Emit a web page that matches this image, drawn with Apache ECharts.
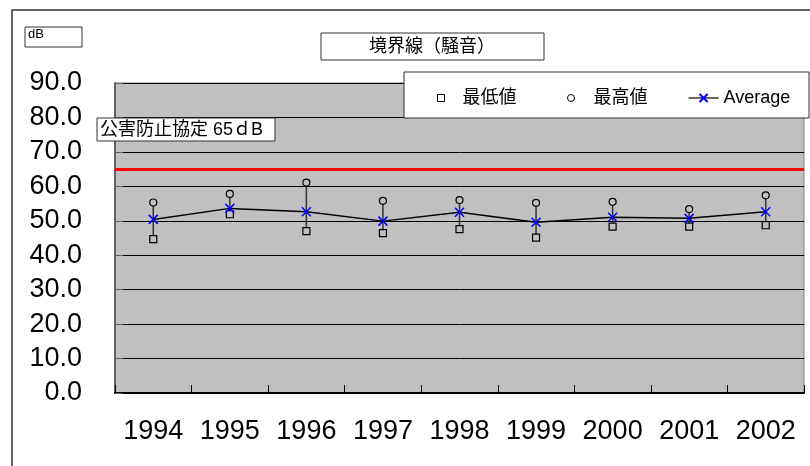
<!DOCTYPE html>
<html lang="ja">
   <head>
      <title>境界線（騒音）</title>
      <meta charset="utf-8">
      <script type="text/javascript" src="https://cdn.jsdelivr.net/npm/echarts@6/dist/echarts.min.js"></script>
   </head>
   <body style="margin:0;">

      <div id="chart1" style="width:810px;height:466px;"></div>

      <script type="text/javascript">
         // data (dB)
         let years = ['1994', '1995', '1996', '1997', '1998', '1999', '2000', '2001', '2002'];
         let minVals = [44.7, 51.9, 47.0, 46.4, 47.6, 45.1, 48.3, 48.3, 48.7];
         let maxVals = [55.3, 57.8, 61.1, 55.8, 56.0, 55.2, 55.5, 53.4, 57.4];
         let avgVals = [50.4, 53.6, 52.6, 49.9, 52.5, 49.6, 51.0, 50.7, 52.6];
         let limitValue = 65;
         let yTicks = [0, 90, 10]; // min, max, interval

         let font = '"Liberation Sans", "Noto Sans CJK JP", sans-serif';
         let xMark = 'path://M0,0L10,10M10,0L0,10';

         let dom1 = document.getElementById('chart1');
         let myChart1 = echarts.init(dom1);

         let legendText = { fontSize: 18, fontFamily: font, color: '#000' };

         let option1 = {
             animation: false,
             textStyle: { fontFamily: font, color: '#000' },
             grid: {
                 left: 115, top: 83, right: 6, bottom: 73,
                 show: true,
                 backgroundColor: '#c0c0c0',
                 borderColor: '#808080',
                 borderWidth: 1
             },
             legend: [
                 {
                     data: ['最低値'], left: 437, top: 89, padding: 0,
                     itemWidth: 7, itemHeight: 7,
                     itemStyle: { color: '#fff', borderWidth: 1 },
                     textStyle: Object.assign({ padding: [0, 0, 0, 13] }, legendText)
                 },
                 {
                     data: ['最高値'], left: 567, top: 89, padding: 0,
                     itemWidth: 7, itemHeight: 7,
                     itemStyle: { color: '#fff', borderWidth: 1 },
                     textStyle: Object.assign({ padding: [0, 0, 0, 14] }, legendText)
                 },
                 {
                     data: ['Average'], left: 688, top: 89, padding: 0,
                     itemWidth: 30, itemHeight: 10,
                     lineStyle: { color: '#000', width: 1.2 },
                     textStyle: legendText
                 }
             ],
             xAxis: {
                 type: 'category',
                 data: years,
                 boundaryGap: true,
                 axisLine: { lineStyle: { color: '#000', width: 2 } },
                 axisTick: { show: true, inside: true, length: 8, lineStyle: { color: '#000', width: 1 } },
                 axisLabel: { interval: 0, margin: 25, fontSize: 27, color: '#000', fontFamily: font },
                 splitLine: { show: false }
             },
             yAxis: {
                 type: 'value',
                 min: yTicks[0], max: yTicks[1], interval: yTicks[2],
                 axisLine: { show: true, lineStyle: { color: '#606060', width: 2 } },
                 axisTick: { show: true, inside: true, length: 8, lineStyle: { color: '#606060' } },
                 axisLabel: {
                     margin: 33, fontSize: 27, color: '#000', fontFamily: font,
                     formatter: function (v) { return v.toFixed(1); }
                 },
                 splitLine: { lineStyle: { color: '#000', width: 1 } }
             },
             graphic: [
                 { type: 'rect', z: 1, shape: { x: 12, y: 10, width: 820, height: 480 },
                   style: { fill: 'none', stroke: '#333', lineWidth: 1.5 } },
                 { type: 'rect', z: 3, shape: { x: 25, y: 27, width: 57, height: 20 },
                   style: { fill: '#fff', stroke: '#333', lineWidth: 1 } },
                 { type: 'text', z: 4, left: 28, top: 28,
                   style: { text: 'dB', fontSize: 13, fontFamily: font, fill: '#000' } },
                 { type: 'rect', z: 3, shape: { x: 321, y: 33, width: 223, height: 27 },
                   style: { fill: '#fff', stroke: '#333', lineWidth: 1 } },
                 { type: 'text', z: 4, x: 432, y: 47,
                   style: { text: '境界線（騒音）', fontSize: 18, fontFamily: font, fill: '#000',
                            align: 'center', verticalAlign: 'middle' } },
                 { type: 'rect', z: 3, shape: { x: 404, y: 72, width: 405, height: 46 },
                   style: { fill: '#fff', stroke: '#333', lineWidth: 1 } },
                 { type: 'rect', z: 3, shape: { x: 97, y: 118, width: 178, height: 23 },
                   style: { fill: '#fff', stroke: '#333', lineWidth: 1 } },
                 { type: 'text', z: 4, x: 100, y: 130,
                   style: { text: '公害防止協定 65ｄB', fontSize: 18, fontFamily: font, fill: '#000',
                            align: 'left', verticalAlign: 'middle' } }
             ],
             series: [
                 {
                     name: 'range',
                     type: 'custom',
                     z: 1,
                     renderItem: function (params, api) {
                         let lo = api.coord([api.value(0), api.value(1)]);
                         let hi = api.coord([api.value(0), api.value(2)]);
                         return {
                             type: 'line',
                             shape: { x1: lo[0], y1: lo[1], x2: hi[0], y2: hi[1] },
                             style: { stroke: '#333', lineWidth: 1.5 }
                         };
                     },
                     data: years.map(function (y, i) { return [i, minVals[i], maxVals[i]]; })
                 },
                 {
                     name: '最低値',
                     type: 'scatter',
                     z: 3,
                     symbol: 'rect',
                     symbolSize: 7,
                     itemStyle: { color: '#c0c0c0', borderColor: '#000', borderWidth: 1.2, opacity: 1 },
                     data: minVals
                 },
                 {
                     name: '最高値',
                     type: 'scatter',
                     z: 3,
                     symbol: 'circle',
                     symbolSize: 7,
                     itemStyle: { color: '#c0c0c0', borderColor: '#000', borderWidth: 1.2, opacity: 1 },
                     data: maxVals
                 },
                 {
                     name: 'Average',
                     type: 'line',
                     z: 4,
                     symbol: xMark,
                     symbolSize: 9,
                     showSymbol: true,
                     itemStyle: { color: 'none', borderColor: '#0000ff', borderWidth: 1.5 },
                     lineStyle: { color: '#000', width: 1.5 },
                     data: avgVals,
                     markLine: {
                         silent: true,
                         symbol: 'none',
                         label: { show: false },
                         lineStyle: { color: '#ff0000', width: 3, type: 'solid' },
                         data: [{ yAxis: limitValue }]
                     }
                 }
             ]
         };

         myChart1.setOption(option1);
      </script>

   </body>
</html>
